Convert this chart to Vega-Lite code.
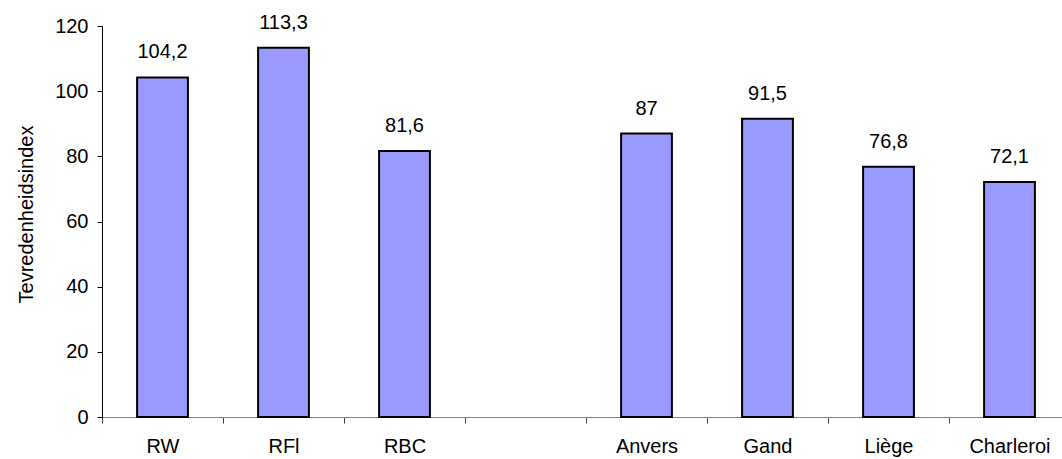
{
  "$schema": "https://vega.github.io/schema/vega-lite/v6.json",
  "autosize": {"type": "none"},
  "width": 960,
  "height": 391,
  "padding": {"left": 102, "top": 26, "right": 0, "bottom": 42},
  "background": "white",
  "config": {
    "view": {"stroke": null},
    "font": "Liberation Sans",
    "axis": {"labelFont": "Liberation Sans", "titleFont": "Liberation Sans", "labelColor": "black", "titleColor": "black"}
  },
  "data": {
    "values": [
      {"region": "RW", "index": 104.2, "label": "104,2"},
      {"region": "RFl", "index": 113.3, "label": "113,3"},
      {"region": "RBC", "index": 81.6, "label": "81,6"},
      {"region": " ", "index": null, "label": ""},
      {"region": "Anvers", "index": 87, "label": "87"},
      {"region": "Gand", "index": 91.5, "label": "91,5"},
      {"region": "Liège", "index": 76.8, "label": "76,8"},
      {"region": "Charleroi", "index": 72.1, "label": "72,1"}
    ]
  },
  "encoding": {
    "x": {
      "field": "region",
      "type": "nominal",
      "sort": null,
      "scale": {
        "domain": ["RW", "RFl", "RBC", " ", "Anvers", "Gand", "Liège", "Charleroi"],
        "range": [0, 968],
        "paddingInner": 0,
        "paddingOuter": 0
      },
      "axis": {
        "title": null,
        "labelAngle": 0,
        "labelFontSize": 20,
        "labelPadding": 13,
        "tickBand": "extent",
        "tickSize": 6,
        "tickColor": "#404040",
        "domainColor": "#808080",
        "domainWidth": 1,
        "grid": false
      }
    },
    "y": {
      "field": "index",
      "type": "quantitative",
      "scale": {"domain": [0, 120], "nice": false},
      "axis": {
        "title": "Tevredenheidsindex",
        "titleFontSize": 20,
        "titleFontWeight": "normal",
        "titleX": -70,
        "titleY": 188,
        "titleBaseline": "alphabetic",
        "titleAngle": -90,
        "titleAlign": "center",
        "values": [0, 20, 40, 60, 80, 100, 120],
        "labelFontSize": 20,
        "labelPadding": 9,
        "tickSize": 5,
        "tickColor": "black",
        "domainColor": "black",
        "grid": false
      }
    }
  },
  "layer": [
    {
      "mark": {"type": "bar", "width": {"band": 0.42}, "fill": "#9999FF", "stroke": "black", "strokeWidth": 2}
    },
    {
      "mark": {"type": "text", "fontSize": 20, "baseline": "alphabetic", "dy": -19, "color": "black"},
      "encoding": {"text": {"field": "label"}}
    }
  ]
}
